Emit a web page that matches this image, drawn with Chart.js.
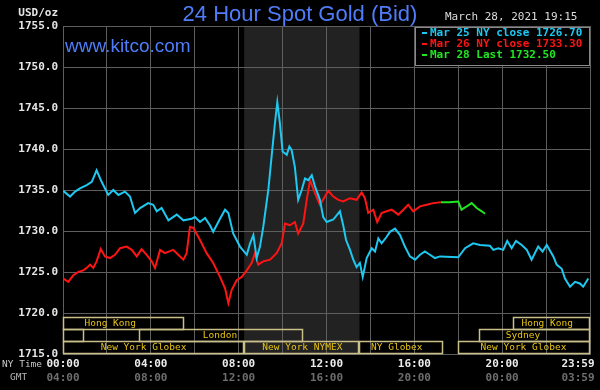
<!DOCTYPE html>
<html>
<head>
<meta charset="utf-8">
<script src="https://cdn.jsdelivr.net/npm/chart.js"></script>
<style>
  body { margin: 0; background: #000; }
  #wrap { width: 600px; height: 390px; }
</style>
</head>
<body>
<div id="wrap"><canvas id="gold" width="600" height="390"></canvas></div>
<script>
// hours are NY time, 0 = 00:00, 24 = 23:59
const mar25Hours = [0.01, 0.32, 0.55, 0.77, 1.08, 1.31, 1.53, 1.76, 2.06, 2.29, 2.52, 2.82, 3.05, 3.28, 3.51, 3.88, 4.11, 4.27, 4.49, 4.80,
  5.18, 5.48, 5.86, 6.01, 6.24, 6.47, 6.69, 6.84, 7.15, 7.38, 7.53, 7.75, 8.06, 8.37, 8.52, 8.67, 8.82, 8.97, 9.12, 9.35,
  9.50, 9.65, 9.76, 9.88, 10.00, 10.19, 10.31, 10.41, 10.56, 10.71, 10.87, 11.02, 11.17, 11.33, 11.48, 11.70, 11.85, 12.01, 12.31, 12.61,
  12.76, 12.89, 13.07, 13.22, 13.37, 13.52, 13.65, 13.83, 14.06, 14.21, 14.36, 14.51, 14.74, 14.89, 15.12, 15.35, 15.57, 15.80, 16.03, 16.26,
  16.48, 16.71, 16.94, 17.17, 18.00, 18.31, 18.68, 18.99, 19.44, 19.60, 19.82, 20.05, 20.23, 20.43, 20.63, 20.89, 21.12, 21.34, 21.64, 21.84,
  22.03, 22.33, 22.48, 22.71, 22.86, 23.09, 23.32, 23.54, 23.69, 23.92];
const mar25Values = [1734.9, 1734.2, 1734.8, 1735.2, 1735.6, 1736.0, 1737.4, 1736.0, 1734.4, 1735.0, 1734.4, 1734.8, 1734.2, 1732.2, 1732.8, 1733.4, 1733.2, 1732.4, 1732.8, 1731.3,
  1732.0, 1731.3, 1731.5, 1731.7, 1731.1, 1731.6, 1730.7, 1729.9, 1731.5, 1732.6, 1732.2, 1729.7, 1728.1, 1727.1, 1728.5, 1729.5, 1726.7, 1728.1, 1730.5, 1735.0,
  1739.1, 1743.1, 1745.7, 1743.1, 1739.7, 1739.3, 1740.3, 1739.9, 1737.8, 1733.8, 1735.0, 1736.4, 1736.2, 1736.8, 1735.4, 1733.8, 1731.7, 1731.1, 1731.4, 1732.4,
  1730.7, 1728.9, 1727.7, 1726.5, 1725.6, 1726.1, 1724.4, 1726.7, 1727.9, 1727.5, 1729.1, 1728.5, 1729.3, 1729.9, 1730.3, 1729.5, 1728.1, 1726.9, 1726.5, 1727.1,
  1727.5, 1727.1, 1726.7, 1726.9, 1726.8, 1727.9, 1728.5, 1728.3, 1728.2, 1727.7, 1727.9, 1727.7, 1728.8, 1727.9, 1728.8, 1728.3, 1727.7, 1726.5, 1728.1, 1727.5,
  1728.3, 1726.9, 1725.9, 1725.4, 1724.2, 1723.2, 1723.8, 1723.6, 1723.2, 1724.2];

const mar26Hours = [0.01, 0.24, 0.47, 0.70, 0.92, 1.08, 1.23, 1.38, 1.53, 1.72, 1.91, 2.14, 2.37, 2.60, 2.90, 3.13, 3.36, 3.58, 3.81, 4.04,
  4.19, 4.42, 4.64, 5.02, 5.25, 5.48, 5.63, 5.78, 5.93, 6.24, 6.54, 6.84, 7.15, 7.38, 7.53, 7.68, 7.91, 8.14, 8.37, 8.59,
  8.74, 8.89, 9.12, 9.43, 9.73, 9.96, 10.11, 10.34, 10.56, 10.71, 10.94, 11.10, 11.25, 11.48, 11.70, 11.93, 12.08, 12.31, 12.54, 12.76,
  13.07, 13.37, 13.60, 13.75, 13.90, 14.13, 14.31, 14.51, 14.74, 14.97, 15.27, 15.50, 15.72, 15.95, 16.26, 16.56, 16.86, 17.20];
const mar26Values = [1724.2, 1723.8, 1724.6, 1725.0, 1725.2, 1725.5, 1725.9, 1725.5, 1726.3, 1727.8, 1726.9, 1726.7, 1727.1, 1727.9, 1728.1, 1727.7, 1726.9, 1727.8, 1727.1, 1726.3,
  1725.5, 1727.7, 1727.3, 1727.7, 1727.1, 1726.5, 1727.3, 1730.5, 1730.4, 1728.9, 1727.3, 1726.1, 1724.4, 1723.0, 1721.2, 1722.8, 1724.0, 1724.4, 1725.2, 1726.1,
  1727.3, 1725.9, 1726.3, 1726.5, 1727.3, 1728.5, 1730.9, 1730.7, 1731.1, 1729.7, 1730.9, 1733.8, 1736.2, 1734.6, 1733.2, 1734.2, 1734.9, 1734.2, 1733.8, 1733.6,
  1734.0, 1733.8, 1734.7, 1734.0, 1732.2, 1732.6, 1731.1, 1732.2, 1732.4, 1732.6, 1732.0, 1732.6, 1733.2, 1732.4, 1733.0, 1733.2, 1733.4, 1733.5];

const mar28Hours = [17.20, 17.60, 18.00, 18.15, 18.33, 18.61, 18.84, 19.07, 19.22];
const mar28Values = [1733.5, 1733.5, 1733.6, 1732.6, 1732.9, 1733.4, 1732.8, 1732.4, 1732.1];

const nyTimeLabels = ['00:00', '04:00', '08:00', '12:00', '16:00', '20:00', '23:59'];
const gmtLabels = ['04:00', '08:00', '12:00', '16:00', '20:00', '00:00', '03:59'];
const labelHours = [0, 4, 8, 12, 16, 20, 24];

const legendLabels = ['Mar 25 NY close 1726.70', 'Mar 26 NY close 1733.30', 'Mar 28 Last 1732.50'];

const nymexHours = [8.25, 13.5];
const sessions = [
  { name: 'Hong Kong', row: 0, from: 0, to: 5.5, at: 2.15 },
  { name: '', row: 1, from: 0, to: 0.97, at: 0.5 },
  { name: 'London', row: 1, from: 3.46, to: 10.93, at: 7.15 },
  { name: 'New York Globex', row: 2, from: 0, to: 8.25, at: 3.67 },
  { name: 'New York NYMEX', row: 2, from: 8.25, to: 13.5, at: 10.9 },
  { name: 'NY Globex', row: 2, from: 13.5, to: 17.3, at: 15.2 },
  { name: 'New York Globex', row: 2, from: 18.0, to: 24, at: 20.97 },
  { name: 'Sydney', row: 1, from: 18.95, to: 24, at: 20.95 },
  { name: 'Hong Kong', row: 0, from: 20.5, to: 24, at: 22.05 }
];

const cyan = '#1ec8f0';
const red = '#ff1414';
const green = '#22e622';
const mono = "'DejaVu Sans Mono', monospace";

function points(hours, values) {
  return hours.map((h, i) => ({ x: h, y: values[i] }));
}

const kitco = {
  id: 'kitco',
  beforeDraw(chart) {
    const { ctx, chartArea: a, scales: { x } } = chart;
    ctx.save();
    ctx.fillStyle = '#000';
    ctx.fillRect(0, 0, chart.width, chart.height);
    const x1 = x.getPixelForValue(nymexHours[0]);
    const x2 = x.getPixelForValue(nymexHours[1]);
    ctx.fillStyle = '#222222';
    ctx.fillRect(x1, a.top, x2 - x1, a.bottom - a.top);
    ctx.restore();
  },
  afterDraw(chart) {
    const { ctx, chartArea: a, scales: { x } } = chart;
    ctx.save();

    // session bars
    ctx.font = '9.5px ' + mono;
    ctx.textAlign = 'center';
    ctx.textBaseline = 'middle';
    sessions.forEach(s => {
      const l = Math.round(x.getPixelForValue(s.from)) + 0.5;
      const r = Math.round(x.getPixelForValue(s.to)) - 0.5;
      const t = a.bottom - 37 + s.row * 12 + 0.5;
      ctx.strokeStyle = '#c9bf88';
      ctx.lineWidth = 1.5;
      ctx.strokeRect(l, t, r - l, 12);
      if (s.name) {
        ctx.fillStyle = '#e8c414';
        ctx.fillText(s.name, x.getPixelForValue(s.at), t + 6.5);
      }
    });

    // titles
    ctx.textBaseline = 'middle';
    ctx.textAlign = 'center';
    ctx.fillStyle = '#4f7dfa';
    ctx.font = "22px 'Liberation Sans', Arial, sans-serif";
    ctx.fillText('24 Hour Spot Gold (Bid)', 300, 15);
    ctx.textAlign = 'left';
    ctx.font = "19px 'Liberation Sans', Arial, sans-serif";
    ctx.fillText('www.kitco.com', 65, 47);

    ctx.font = '11px ' + mono;
    ctx.fillStyle = '#dcdcdc';
    ctx.fillText('March 28, 2021 19:15', 445, 17);

    ctx.font = 'bold 11px ' + mono;
    ctx.textAlign = 'right';
    ctx.fillStyle = '#e6e6e6';
    ctx.fillText('USD/oz', 58, 13);

    // legend box
    ctx.fillStyle = '#000';
    ctx.fillRect(415, 27, 175, 38);
    ctx.strokeStyle = '#8a8a8a';
    ctx.lineWidth = 1;
    ctx.strokeRect(415.5, 27.5, 174, 38);
    const colors = [cyan, red, green];
    ctx.textAlign = 'left';
    legendLabels.forEach((txt, i) => {
      const y = 33 + i * 11;
      ctx.fillStyle = colors[i];
      ctx.fillRect(422, y - 1, 5, 2);
      ctx.fillText(txt, 430, y);
    });

    // x labels
    labelHours.forEach((h, i) => {
      let px = x.getPixelForValue(h);
      if (i === labelHours.length - 1) px -= 12;
      ctx.textAlign = 'center';
      ctx.font = 'bold 11px ' + mono;
      ctx.fillStyle = '#ececec';
      ctx.fillText(nyTimeLabels[i], px, 364);
      ctx.fillStyle = '#6e6e6e';
      ctx.fillText(gmtLabels[i], px, 378);
    });
    ctx.textAlign = 'left';
    ctx.font = '9.5px ' + mono;
    ctx.fillStyle = '#c8c8c8';
    ctx.fillText('NY Time', 2, 365);
    ctx.fillStyle = '#b4b4b4';
    ctx.fillText('GMT', 10, 378);
    ctx.restore();
  }
};

new Chart(document.getElementById('gold'), {
  type: 'line',
  data: {
    datasets: [
      { label: 'Mar 25', data: points(mar25Hours, mar25Values), borderColor: cyan, borderWidth: 2, pointRadius: 0, tension: 0 },
      { label: 'Mar 26', data: points(mar26Hours, mar26Values), borderColor: red, borderWidth: 2, pointRadius: 0, tension: 0 },
      { label: 'Mar 28', data: points(mar28Hours, mar28Values), borderColor: green, borderWidth: 2, pointRadius: 0, tension: 0 }
    ]
  },
  options: {
    responsive: false,
    animation: false,
    layout: { padding: { top: 26, right: 10, left: 0, bottom: 0 } },
    plugins: { legend: { display: false }, tooltip: { enabled: false } },
    scales: {
      x: {
        type: 'linear',
        min: 0,
        max: 24,
        ticks: { display: false, stepSize: 2 },
        grid: { color: '#5e5e5e', drawTicks: false },
        border: { color: '#5e5e5e' },
        afterFit(scale) { scale.height = 36; }
      },
      y: {
        min: 1715,
        max: 1755,
        ticks: {
          stepSize: 5,
          padding: 5,
          color: '#e6e6e6',
          font: { family: mono, size: 11, weight: 'bold' },
          callback: v => v.toFixed(1)
        },
        grid: { color: '#5e5e5e', drawTicks: false },
        border: { color: '#5e5e5e' },
        afterFit(scale) { scale.width = 63; }
      }
    }
  },
  plugins: [kitco]
});
</script>
</body>
</html>
